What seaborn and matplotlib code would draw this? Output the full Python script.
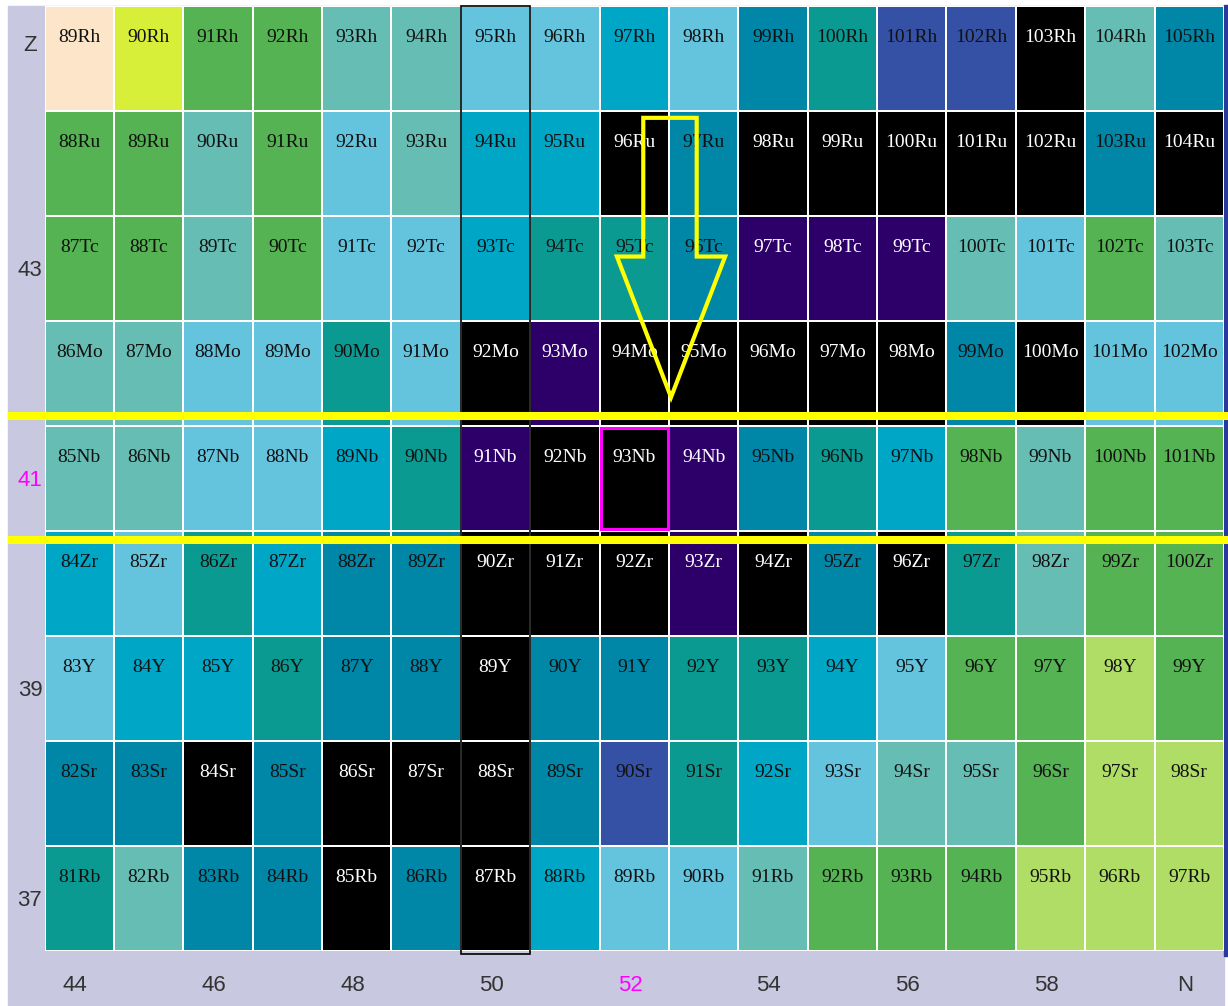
import numpy as np
import pandas as pd
import seaborn as sns
import matplotlib.pyplot as plt
from matplotlib.colors import ListedColormap
from matplotlib.patches import Rectangle, Polygon

# proton numbers (top row first) and neutron numbers
Z_values = [45, 44, 43, 42, 41, 40, 39, 38, 37]
elements = ['Rh', 'Ru', 'Tc', 'Mo', 'Nb', 'Zr', 'Y', 'Sr', 'Rb']
N_values = list(range(44, 61))

# colour class of every cell
row_Rh = ['P', 'Yl', 'G', 'G', 'T', 'T', 'S', 'S', 'C', 'S', 'D', 'E', 'B', 'B', 'K', 'T', 'D']
row_Ru = ['G', 'G', 'T', 'G', 'S', 'T', 'C', 'C', 'K', 'D', 'K', 'K', 'K', 'K', 'K', 'D', 'K']
row_Tc = ['G', 'G', 'T', 'G', 'S', 'S', 'C', 'E', 'E', 'D', 'V', 'V', 'V', 'T', 'S', 'G', 'T']
row_Mo = ['T', 'T', 'S', 'S', 'E', 'S', 'K', 'V', 'K', 'K', 'K', 'K', 'K', 'D', 'K', 'S', 'S']
row_Nb = ['T', 'T', 'S', 'S', 'C', 'E', 'V', 'K', 'K', 'V', 'D', 'E', 'C', 'G', 'T', 'G', 'G']
row_Zr = ['C', 'S', 'E', 'C', 'D', 'D', 'K', 'K', 'K', 'V', 'K', 'D', 'K', 'E', 'T', 'G', 'G']
row_Y = ['S', 'C', 'C', 'E', 'D', 'D', 'K', 'D', 'D', 'E', 'E', 'C', 'S', 'G', 'G', 'LG', 'G']
row_Sr = ['D', 'D', 'K', 'D', 'K', 'K', 'K', 'D', 'B', 'E', 'C', 'S', 'T', 'T', 'G', 'LG', 'LG']
row_Rb = ['E', 'T', 'D', 'D', 'K', 'D', 'K', 'C', 'S', 'S', 'T', 'G', 'G', 'G', 'LG', 'LG', 'LG']

palette = {
    'P': '#fde5c9', 'Yl': '#d8ef3a', 'G': '#55b353', 'LG': '#b0dd65',
    'T': '#66bdb4', 'S': '#64c4de', 'C': '#00a6c6', 'D': '#0086a6',
    'E': '#0a9a92', 'B': '#3551a6', 'V': '#2d0069', 'K': '#000000',
}
dark_classes = ['K', 'V']

x_labels = ['44', '', '46', '', '48', '', '50', '', '52', '', '54', '', '56', '', '58', '', 'N']
y_labels = ['Z', '', '43', '', '41', '', '39', '', '37']
highlight_N = 52
highlight_Z = 41
magic_N = 50

rows = [row_Rh, row_Ru, row_Tc, row_Mo, row_Nb, row_Zr, row_Y, row_Sr, row_Rb]
keys = list(palette.keys())
codes = pd.DataFrame([[keys.index(c) for c in r] for r in rows], index=Z_values, columns=N_values)

fig = plt.figure(figsize=(12.28, 10.06), dpi=100)
fig.patches.append(Rectangle((8 / 1228, 0), (1224 - 8) / 1228, 1000 / 1006,
                             transform=fig.transFigure, color='#c8c8e0', zorder=-10))
fig.patches.append(Rectangle((1224 / 1228, 0.05), 4 / 1228, 0.945,
                             transform=fig.transFigure, color='#2a3a9c', zorder=-10))
ax = fig.add_axes([44.5 / 1228, 1 - 951 / 1006, (1224 - 44.5) / 1228, (951 - 6) / 1006])
ax.set_facecolor('white')

sns.heatmap(codes, ax=ax, cmap=ListedColormap([palette[k] for k in keys]),
            vmin=-0.5, vmax=len(keys) - 0.5, cbar=False, linewidths=1.1,
            linecolor='white', xticklabels=False, yticklabels=False)
ax.set_xlabel('')
ax.set_ylabel('')

# nuclide names in the upper part of each cell
for i, (z, el) in enumerate(zip(Z_values, elements)):
    for j, n in enumerate(N_values):
        tc = 'white' if rows[i][j] in dark_classes else '#111111'
        ax.text(j + 0.5, i + 0.3, f'{z + n}{el}', ha='center', va='center',
                fontsize=14, color=tc, family='Liberation Serif')

# axis numbers
for j, lab in enumerate(x_labels):
    if lab:
        col = '#ff00ff' if lab == str(highlight_N) else '#333333'
        ax.text(j + 0.44, 9.33, lab, ha='center', va='center', fontsize=16,
                color=col, family='Liberation Sans', clip_on=False)
for i, lab in enumerate(y_labels):
    if lab:
        col = '#ff00ff' if lab == str(highlight_Z) else '#333333'
        ax.text(-0.21, i + 0.52 if lab != 'Z' else i + 0.38, lab, ha='center', va='center',
                fontsize=16, color=col, family='Liberation Sans', clip_on=False)

# N = 50 column outline
c50 = N_values.index(magic_N)
ax.add_patch(Rectangle((c50, 0), 1, 9.03, fill=False, ec='black', lw=1.2, clip_on=False, zorder=5))

# 93Nb box
ci = N_values.index(highlight_N)
ri = Z_values.index(highlight_Z)
ax.add_patch(Rectangle((ci + 0.02, ri + 0.02), 0.96, 0.96, fill=False, ec='#ff00ff', lw=2.2, zorder=6))

# yellow lines around Z = 41
for yy in [ri - 0.1, ri + 1.09]:
    ax.plot([-0.53, 17.1], [yy, yy], color='#ffff00', lw=5.8, clip_on=False, zorder=7,
            solid_capstyle='butt')

# hollow yellow arrow
arrow = [(8.63, 1.065), (9.40, 1.065), (9.40, 2.386), (9.81, 2.386), (9.03, 3.726),
         (8.25, 2.386), (8.63, 2.386)]
ax.add_patch(Polygon(arrow, closed=True, fill=False, ec='#ffff00', lw=3, zorder=8,
                     joinstyle='miter'))

fig.savefig('out.png', dpi=100)
